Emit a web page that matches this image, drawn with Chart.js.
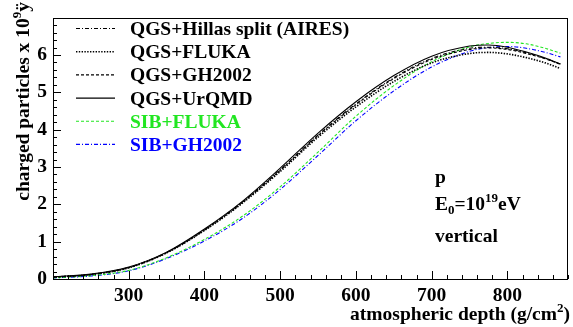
<!DOCTYPE html>
<html><head><meta charset="utf-8">
<script src="https://cdn.jsdelivr.net/npm/chart.js@4/dist/chart.umd.min.js"></script>
<style>html,body{margin:0;padding:0;background:#fff;overflow:hidden}#wrap{width:573px;height:327px;position:relative}canvas{display:block}</style>
</head><body><div id="wrap"><canvas id="c" width="573" height="327"></canvas></div>
<script>
// ---- data ----
const depth      = [200, 250, 300, 350, 400, 450, 500, 550, 600, 650, 700, 750, 775, 800, 825, 850, 870];
const qgsHillas  = [0.05, 0.12, 0.31, 0.71, 1.32, 2.06, 2.93, 3.86, 4.69, 5.39, 5.91, 6.18, 6.21, 6.17, 6.06, 5.91, 5.76];
const qgsFluka   = [0.05, 0.12, 0.30, 0.70, 1.30, 2.03, 2.88, 3.80, 4.61, 5.29, 5.79, 6.04, 6.07, 6.03, 5.93, 5.79, 5.64];
const qgsGH2002  = [0.05, 0.12, 0.30, 0.70, 1.31, 2.05, 2.91, 3.84, 4.67, 5.37, 5.88, 6.15, 6.19, 6.15, 6.04, 5.90, 5.75];
const qgsUrQMD   = [0.06, 0.13, 0.32, 0.72, 1.34, 2.08, 2.97, 3.91, 4.75, 5.45, 5.97, 6.24, 6.27, 6.21, 6.08, 5.92, 5.76];
const sibFluka   = [0.03, 0.09, 0.23, 0.57, 1.06, 1.68, 2.47, 3.40, 4.36, 5.18, 5.82, 6.22, 6.31, 6.34, 6.30, 6.18, 6.05];
const sibGH2002  = [0.03, 0.08, 0.22, 0.55, 1.02, 1.62, 2.40, 3.31, 4.24, 5.04, 5.68, 6.10, 6.20, 6.23, 6.18, 6.07, 5.95];
const seriesNames = ['QGS+Hillas split (AIRES)', 'QGS+FLUKA', 'QGS+GH2002', 'QGS+UrQMD', 'SIB+FLUKA', 'SIB+GH2002'];
const xTickLabels = [300, 400, 500, 600, 700, 800];
const yTickLabels = [0, 1, 2, 3, 4, 5, 6];

// ---- styles ----
const FONT = "'Liberation Serif', 'Times New Roman', serif";
const GREEN = '#22e622', BLUE = '#0000ff';
const styles = [
  {color:'#000', dash:[4,2,1,2],   width:1.1, text:'#000'},
  {color:'#000', dash:[1.4,1.4],   width:1.6, text:'#000'},
  {color:'#000', dash:[3,2],       width:1.1, text:'#000'},
  {color:'#000', dash:[],          width:1.1, text:'#000'},
  {color:GREEN,  dash:[3,2],       width:1.1, text:GREEN},
  {color:BLUE,   dash:[4,2,1,2],   width:1.1, text:BLUE}
];
const values = [qgsHillas, qgsFluka, qgsGH2002, qgsUrQMD, sibFluka, sibGH2002];

const datasets = values.map((arr, i) => ({
  label: seriesNames[i],
  data: depth.map((d, j) => ({x: d, y: arr[j]})),
  borderColor: styles[i].color,
  borderDash: styles[i].dash,
  borderWidth: styles[i].width,
  pointRadius: 0,
  fill: false,
  cubicInterpolationMode: 'monotone',
  legendText: styles[i].text
}));

function drawRich(ctx, x, y, segs, align) {
  let w = 0;
  segs.forEach(s => { ctx.font = `bold ${s.size}px ${FONT}`; s.w = ctx.measureText(s.t).width; w += s.w; });
  let cx = align === 'right' ? x - w : x;
  ctx.textAlign = 'left';
  ctx.textBaseline = 'alphabetic';
  segs.forEach(s => { ctx.font = `bold ${s.size}px ${FONT}`; ctx.fillText(s.t, cx, y + (s.dy || 0)); cx += s.w; });
  return w;
}

const framePlugin = {
  id: 'frame',
  afterDatasetsDraw(chart) {
    const {ctx, chartArea: a, scales: {x, y}} = chart;
    ctx.save();
    ctx.strokeStyle = '#000';
    ctx.lineWidth = 1;
    ctx.setLineDash([]);
    ctx.strokeRect(Math.round(a.left) + 0.5, Math.round(a.top) + 0.5, Math.round(a.right - a.left) - 1, Math.round(a.bottom - a.top));
    ctx.beginPath();
    for (let v = 200; v <= 880; v += 20) {
      const px = Math.round(x.getPixelForValue(v)) + 0.5;
      const len = (v % 100 === 0) ? 8 : 4;
      ctx.moveTo(px, a.bottom); ctx.lineTo(px, a.bottom - len);
    }
    for (let k = 0; k <= 35; k++) {
      const v = k * 0.2;
      const py = Math.round(y.getPixelForValue(v)) + 0.5;
      const len = (k % 5 === 0) ? 8 : 4;
      ctx.moveTo(a.left, py); ctx.lineTo(a.left + len, py);
    }
    ctx.stroke();
    ctx.restore();
  }
};

const textPlugin = {
  id: 'texts',
  afterDraw(chart) {
    const ctx = chart.ctx;
    ctx.save();
    // legend
    const baselines = [35, 58.2, 81.4, 104.6, 127.8, 150.9];
    chart.data.datasets.forEach((ds, i) => {
      const by = baselines[i];
      ctx.strokeStyle = ds.borderColor;
      ctx.setLineDash(ds.borderDash);
      ctx.lineWidth = ds.borderWidth;
      ctx.beginPath();
      ctx.moveTo(76, by - 6.5); ctx.lineTo(115, by - 6.5);
      ctx.stroke();
      ctx.setLineDash([]);
      ctx.fillStyle = ds.legendText;
      drawRich(ctx, 130, by, [{t: ds.label, size: 19.5}], 'left');
    });
    ctx.fillStyle = '#000';
    // x title
    drawRich(ctx, 570, 319.5, [{t:'atmospheric depth (g/cm', size:19.5}, {t:'2', size:13, dy:-8}, {t:')', size:19.5}], 'right');
    // y title rotated
    ctx.save();
    ctx.translate(28.5, 2);
    ctx.rotate(-Math.PI / 2);
    const segsY = [{t:'charged particles x 10', size:19.5}, {t:'9', size:13, dy:-8}, {t:'ÿ', size:19.5}];
    let w = 0;
    segsY.forEach(s => { ctx.font = `bold ${s.size}px ${FONT}`; w += ctx.measureText(s.t).width; });
    drawRich(ctx, -w, 0, segsY, 'left');
    ctx.restore();
    // annotation
    drawRich(ctx, 435, 183.3, [{t:'p', size:19.5}], 'left');
    drawRich(ctx, 435, 210, [{t:'E', size:19.5}, {t:'0', size:13, dy:4}, {t:'=10', size:19.5}, {t:'19', size:13, dy:-8}, {t:'eV', size:19.5}], 'left');
    drawRich(ctx, 435, 241.7, [{t:'vertical', size:19.5}], 'left');
    ctx.restore();
  }
};

const tickFont = {family: FONT, weight: 'bold', size: 19.5};

new Chart(document.getElementById('c').getContext('2d'), {
  type: 'line',
  data: {datasets},
  options: {
    responsive: false,
    animation: false,
    devicePixelRatio: 1,
    layout: {padding: {left: 0, right: 1, top: 9, bottom: 0}},
    plugins: {legend: {display: false}, tooltip: {enabled: false}},
    scales: {
      x: {
        type: 'linear', min: 200, max: 880,
        afterFit(s) { s.height = 48; },
        grid: {display: false, drawTicks: false},
        border: {display: false},
        ticks: {stepSize: 100, padding: 5, autoSkip: false, maxRotation: 0, color: '#000', font: tickFont,
          callback: v => xTickLabels.includes(v) ? String(v) : ''}
      },
      y: {
        type: 'linear', min: 0, max: 7,
        afterFit(s) { s.width = 53; },
        grid: {display: false, drawTicks: false},
        border: {display: false},
        ticks: {stepSize: 1, padding: 6, autoSkip: false, color: '#000', font: tickFont,
          callback: v => yTickLabels.includes(v) ? String(v) : ''}
      }
    }
  },
  plugins: [framePlugin, textPlugin]
});
</script>
</body></html>
